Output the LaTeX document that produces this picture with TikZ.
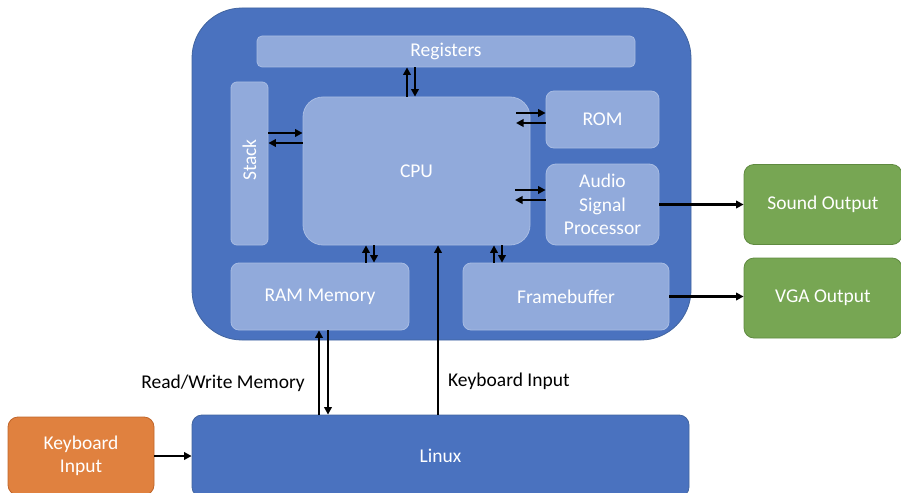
\documentclass[tikz,border=0pt]{standalone}
\usepackage{fontspec}
\setmainfont{Carlito}
\usetikzlibrary{arrows.meta}
\definecolor{outerblue}{HTML}{4A72BF}
\definecolor{outerline}{HTML}{41649F}
\definecolor{innerfill}{HTML}{91AADB}
\definecolor{innerline}{HTML}{A8BCE3}
\definecolor{grn}{HTML}{77A653}
\definecolor{grnline}{HTML}{5F8A40}
\definecolor{org}{HTML}{E0813F}
\definecolor{orgline}{HTML}{C0652A}
\begin{document}
\begin{tikzpicture}[x=1pt,y=-1pt,
  box/.style={rectangle,inner sep=0pt,text=white,font=\fontsize{19.5}{23.5}\selectfont,align=center},
  inner/.style={box,fill=innerfill,draw=innerline,line width=0.8pt},
  outbox/.style={box,fill=grn,draw=grnline,line width=0.8pt,rounded corners=10pt},
  arr/.style={-{Triangle[length=7.5pt,width=7.5pt]},line width=2.2pt,black},
  lbl/.style={font=\fontsize{19.5}{23}\selectfont,text=black,inner sep=0pt}]
\useasboundingbox (0,0) rectangle (901,492);
% outer container
\node[box,fill=outerblue,draw=outerline,line width=0.8pt,rounded corners=50pt,minimum width=499pt,minimum height=332pt] (sys) at (441.5,174) {};
\node[inner,rounded corners=5pt,minimum width=378pt,minimum height=31pt] (reg) at (446,51.5) {Registers};
\node[inner,rounded corners=6pt,minimum width=37pt,minimum height=163pt] (stack) at (249.5,163.5) {};
\node[text=white,font=\fontsize{19.5}{23}\selectfont,rotate=90,inner sep=0pt] (stacklbl) at (249.5,160) {Stack};
\node[inner,rounded corners=20pt,minimum width=227pt,minimum height=148pt] (cpu) at (416.5,171) {};
\node[text=white,font=\fontsize{19.5}{23}\selectfont,inner sep=0pt] (cpulbl) at (416.5,171) {CPU};
\node[inner,rounded corners=8pt,minimum width=113pt,minimum height=57pt] (rom) at (602.5,119.5) {ROM};
\node[inner,rounded corners=10pt,minimum width=113pt,minimum height=81pt] (asp) at (602.5,204.5) {Audio\\Signal\\Processor};
\node[inner,rounded corners=8pt,minimum width=178pt,minimum height=67pt] (ram) at (320,296.5) {RAM Memory};
\node[inner,rounded corners=8pt,minimum width=206pt,minimum height=67pt] (fb) at (566,296.5) {Framebuffer};
% outputs
\node[outbox,minimum width=158pt,minimum height=80pt] (snd) at (823,204.5) {Sound Output};
\node[outbox,minimum width=158pt,minimum height=80pt] (vga) at (823,298) {VGA Output};
% bottom
\node[box,fill=org,draw=orgline,line width=0.8pt,rounded corners=10pt,minimum width=146pt,minimum height=78pt] (kbd) at (81,456) {Keyboard\\Input};
\node[box,fill=outerblue,draw=outerline,line width=0.8pt,rounded corners=10pt,minimum width=497pt,minimum height=82pt] (linux) at (440.5,456) {Linux};
% arrows: registers <-> cpu
\draw[arr] (cpu.north -| 407,0) -- (reg.south -| 407,0);
\draw[arr] (reg.south -| 415,0) -- (cpu.north -| 415,0);
% stack <-> cpu
\draw[arr] (stack.east |- 0,133) -- (cpu.west |- 0,133);
\draw[arr] (cpu.west |- 0,143) -- (stack.east |- 0,143);
% cpu <-> rom
\coordinate (romL1) at (516,113);
\coordinate (romL2) at (516,123);
\draw[arr] (romL1) -- (rom.west |- romL1);
\draw[arr] (rom.west |- romL2) -- (romL2);
% cpu <-> asp
\coordinate (aspL1) at (515,190);
\coordinate (aspL2) at (515,200);
\draw[arr] (aspL1) -- (asp.west |- aspL1);
\draw[arr] (asp.west |- aspL2) -- (aspL2);
% cpu <-> ram
\draw[arr] (ram.north -| 366,0) -- (cpu.south -| 366,0);
\draw[arr] (cpu.south -| 374,0) -- (ram.north -| 374,0);
% cpu <-> framebuffer
\draw[arr] (fb.north -| 494,0) -- (cpu.south -| 494,0);
\draw[arr] (cpu.south -| 502,0) -- (fb.north -| 502,0);
% outputs
\draw[arr] (asp.east) -- (snd.west);
\draw[arr] (fb.east) -- (fb.east -| vga.west);
% linux links
\draw[arr] (linux.north -| 319,0) -- (ram.south -| 319,0);
\draw[arr] (ram.south -| 328,0) -- (linux.north -| 328,0);
\draw[arr] (linux.north -| 438,0) -- (cpu.south -| 438,0);
\draw[arr] (kbd.east) -- (linux.west);
% labels
\node[lbl,anchor=east] (rwlbl) at (305,383) {Read/Write Memory};
\node[lbl,anchor=west] (kilbl) at (448,381) {Keyboard Input};
\end{tikzpicture}
\end{document}
